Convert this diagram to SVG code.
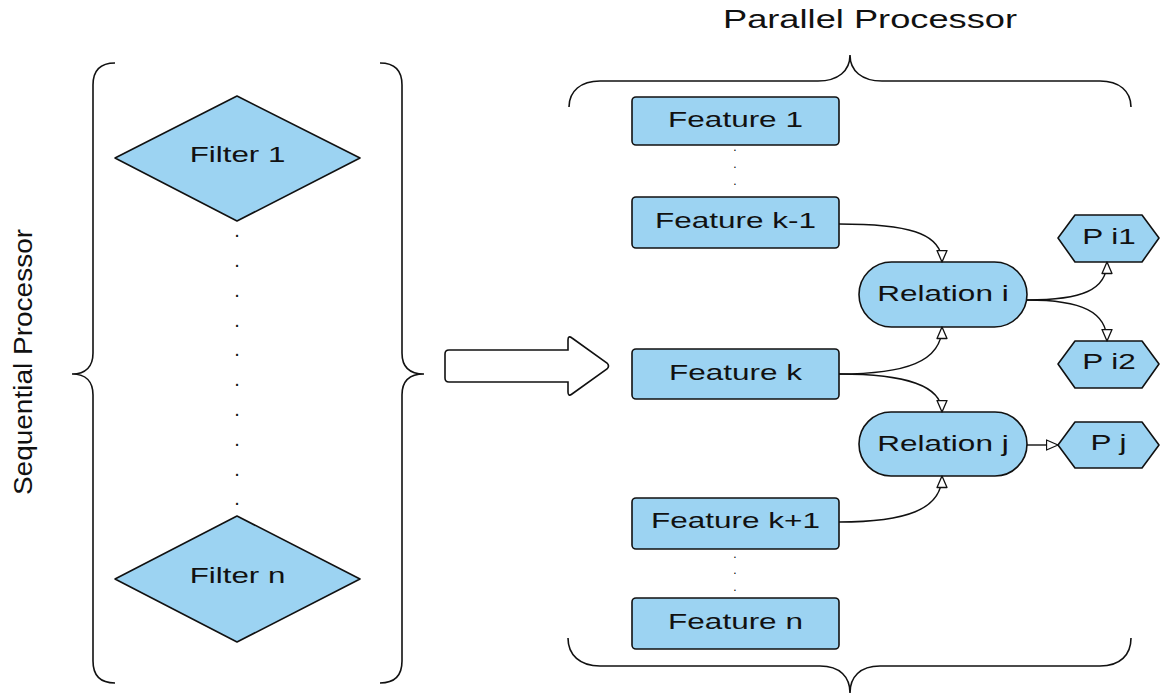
<svg xmlns="http://www.w3.org/2000/svg" width="1165" height="695" viewBox="0 0 1165 695">
  <style>
    .node { fill: #9cd3f2; stroke: #111; stroke-width: 1.6; stroke-linejoin: round; }
    .brace { fill: none; stroke: #111; stroke-width: 1.6; }
    .conn { fill: none; stroke: #111; stroke-width: 1.4; marker-end: url(#open-tri); }
    .lbl { font-family: "Liberation Sans", Arial, sans-serif; font-size: 22.5px; fill: #111; text-anchor: middle; }
    .title { font-family: "Liberation Sans", Arial, sans-serif; font-size: 25px; fill: #111; text-anchor: middle; }
    .dot { font-family: "Liberation Sans", Arial, sans-serif; font-size: 20px; fill: #111; text-anchor: middle; }
    .dot-s { font-family: "Liberation Sans", Arial, sans-serif; font-size: 12px; fill: #000; text-anchor: middle; }
  </style>
  <defs>
    <marker id="open-tri" markerUnits="userSpaceOnUse" markerWidth="14" markerHeight="14" viewBox="-1 -1 14 12" refX="11.5" refY="5" orient="auto">
      <path d="M0,0 L11.5,5 L0,10 Z" fill="#fff" stroke="#111" stroke-width="1.3" stroke-linejoin="round"/>
    </marker>
  </defs>

  <rect width="1165" height="695" fill="#fff"/>

  <!-- section labels -->
  <text class="title" transform="translate(870 27.5) scale(1.45 1)">Parallel Processor</text>
  <text class="title" transform="translate(31.5 362) rotate(-90) scale(1.09 1)" style="font-size:25.7px">Sequential Processor</text>

  <!-- braces -->
  <g id="braces">
    <path class="brace" d="M115,63 C101,63 93,70 93,85 L93,353 C93,366 86,374 72,374 C86,374 93,382 93,395 L93,661 C93,676 101,683 115,683"/>
    <path class="brace" d="M380,63 C394,63 402,70 402,85 L402,353 C402,366 409,374 424,374 C409,374 402,382 402,395 L402,661 C402,676 394,683 380,683"/>
    <path class="brace" d="M569,107 C569,91 581,81 600,81 L818,81 C838,81 850,71 850,55 C850,71 862,81 882,81 L1100,81 C1119,81 1131,91 1131,107"/>
    <path class="brace" d="M568,638 C568,655 580,666 600,666 L820,666 C840,666 850,677 850,693 C850,677 860,666 880,666 L1100,666 C1120,666 1131,655 1131,638"/>
  </g>

  <!-- transition arrow -->
  <path id="big-arrow" d="M449,350 L568,350 L568,340 Q568,335 572,338 L607,363 Q610,366 607,369 L572,394 Q568,397 568,392 L568,382 L449,382 Q445,382 445,378 L445,354 Q445,350 449,350 Z" fill="#fff" stroke="#111" stroke-width="1.6"/>

  <!-- sequential filters -->
  <g id="filter-1">
    <polygon class="node" points="115,158 237,96 360,158 237,221"/>
    <text class="lbl" transform="translate(237.5 161.5) scale(1.39 1)">Filter 1</text>
  </g>
  <g id="filter-dots">
    <text class="dot" x="237" y="237">.</text>
    <text class="dot" x="237" y="267">.</text>
    <text class="dot" x="237" y="297">.</text>
    <text class="dot" x="237" y="327">.</text>
    <text class="dot" x="237" y="356">.</text>
    <text class="dot" x="237" y="386">.</text>
    <text class="dot" x="237" y="416">.</text>
    <text class="dot" x="237" y="446">.</text>
    <text class="dot" x="237" y="476">.</text>
    <text class="dot" x="237" y="505">.</text>
  </g>
  <g id="filter-n">
    <polygon class="node" points="115,579 237,516 360,579 237,642"/>
    <text class="lbl" transform="translate(237.5 582.5) scale(1.39 1)">Filter n</text>
  </g>

  <!-- features -->
  <g id="feature-1">
    <rect class="node" x="632" y="97" width="207" height="48" rx="4"/>
    <text class="lbl" transform="translate(735.5 126.5) scale(1.40 1)">Feature 1</text>
  </g>
  <g id="feature-dots-top">
    <text class="dot-s" x="735" y="151">.</text>
    <text class="dot-s" x="735" y="168">.</text>
    <text class="dot-s" x="735" y="185">.</text>
  </g>
  <g id="feature-k-1">
    <rect class="node" x="632" y="197" width="207" height="51" rx="4"/>
    <text class="lbl" transform="translate(735.5 227.5) scale(1.40 1)">Feature k-1</text>
  </g>
  <g id="feature-k">
    <rect class="node" x="632" y="349" width="207" height="50" rx="4"/>
    <text class="lbl" transform="translate(735.5 380) scale(1.40 1)">Feature k</text>
  </g>
  <g id="feature-k1">
    <rect class="node" x="632" y="498" width="207" height="51" rx="4"/>
    <text class="lbl" transform="translate(735.5 527.5) scale(1.40 1)">Feature k+1</text>
  </g>
  <g id="feature-dots-bottom">
    <text class="dot-s" x="735" y="558">.</text>
    <text class="dot-s" x="735" y="574">.</text>
    <text class="dot-s" x="735" y="591">.</text>
  </g>
  <g id="feature-n">
    <rect class="node" x="632" y="598" width="207" height="51" rx="4"/>
    <text class="lbl" transform="translate(735.5 628.5) scale(1.40 1)">Feature n</text>
  </g>

  <!-- relations -->
  <g id="relation-i">
    <rect class="node" x="859" y="262" width="168" height="65" rx="32.5"/>
    <text class="lbl" transform="translate(943 300.5) scale(1.40 1)">Relation i</text>
  </g>
  <g id="relation-j">
    <rect class="node" x="859" y="412" width="168" height="64" rx="32"/>
    <text class="lbl" transform="translate(943 450.5) scale(1.40 1)">Relation j</text>
  </g>

  <!-- outputs -->
  <g id="p-i1">
    <polygon class="node" points="1058,238 1075,215 1142,215 1159,238 1142,262 1075,262"/>
    <text class="lbl" transform="translate(1109 243.5) scale(1.40 1)">P i1</text>
  </g>
  <g id="p-i2">
    <polygon class="node" points="1058,364 1075,341 1142,341 1159,364 1142,388 1075,388"/>
    <text class="lbl" transform="translate(1109 368.5) scale(1.40 1)">P i2</text>
  </g>
  <g id="p-j">
    <polygon class="node" points="1058,445 1075,422 1142,422 1159,445 1142,468 1075,468"/>
    <text class="lbl" transform="translate(1108.5 450) scale(1.40 1)">P j</text>
  </g>

  <!-- connectors -->
  <g id="connectors">
    <path class="conn" d="M839,224 C905,224 942,232 942,262"/>
    <path class="conn" d="M839,374 C905,374 942,362 942,327"/>
    <path class="conn" d="M839,374 C905,374 942,385 942,412"/>
    <path class="conn" d="M839,522 C905,522 942,510 942,476"/>
    <path class="conn" d="M1027,300 C1082,300 1107,290 1107,262"/>
    <path class="conn" d="M1027,300 C1082,300 1107,312 1107,341"/>
    <path class="conn" d="M1027,445 L1058,445"/>
  </g>
</svg>
